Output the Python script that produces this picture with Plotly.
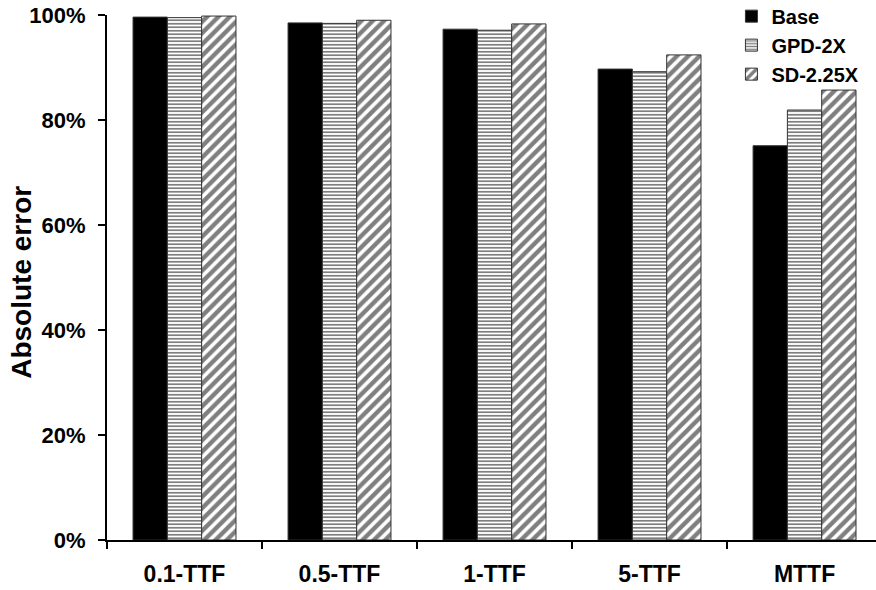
import plotly.graph_objects as go

categories = ["0.1-TTF", "0.5-TTF", "1-TTF", "5-TTF", "MTTF"]
base = [0.996, 0.985, 0.973, 0.897, 0.751]
gpd_2x = [0.995, 0.984, 0.971, 0.892, 0.819]
sd_225x = [0.998, 0.990, 0.983, 0.924, 0.857]
series_names = ["Base", "GPD-2X", "SD-2.25X"]
y_ticks = [0, 0.2, 0.4, 0.6, 0.8, 1.0]
y_tick_labels = ["0%", "20%", "40%", "60%", "80%", "100%"]
y_title = "Absolute error"

FONT = "Liberation Sans, Arial, sans-serif"

fig = go.Figure()
fig.add_trace(go.Bar(
    x=categories, y=base, name=series_names[0],
    marker=dict(color="black", line=dict(color="#333", width=1)),
))
fig.add_trace(go.Bar(
    x=categories, y=gpd_2x, name=series_names[1],
    marker=dict(color="white", line=dict(color="#333", width=1),
                pattern=dict(shape="-", fgcolor="black", bgcolor="white",
                             size=3.5, solidity=0.5)),
))
fig.add_trace(go.Bar(
    x=categories, y=sd_225x, name=series_names[2],
    marker=dict(color="white", line=dict(color="#333", width=1),
                pattern=dict(shape="/", fgcolor="black", bgcolor="white",
                             size=8, solidity=0.55)),
))

fig.add_annotation(
    text=y_title, xref="paper", yref="paper", x=-0.1105, y=0.49,
    xanchor="center", yanchor="middle", textangle=-90, showarrow=False,
    font=dict(family=FONT, size=28, color="black", weight="bold"),
)

fig.update_layout(
    width=876, height=590,
    margin=dict(l=107, r=0, t=15, b=50, autoexpand=False),
    plot_bgcolor="white", paper_bgcolor="white",
    barmode="group", bargap=0.336, bargroupgap=0,
    font=dict(family=FONT, size=20, color="black", weight="bold"),
    showlegend=True,
    legend=dict(x=0.812, y=1.035, xanchor="left", yanchor="top",
                bgcolor="rgba(0,0,0,0)", borderwidth=0,
                font=dict(family=FONT, size=20, color="black", weight="bold"),
                tracegroupgap=0),
    xaxis=dict(
        type="category", range=[-0.5, 4.461],
        showline=True, linecolor="black", linewidth=2,
        ticks="outside", tickson="boundaries", ticklen=7, tickwidth=2,
        tickcolor="black", showgrid=False, zeroline=False,
        tickfont=dict(family=FONT, size=23, color="black", weight="bold"),
        ticklabelstandoff=12,
    ),
    yaxis=dict(
        range=[0, 1], tickvals=y_ticks, ticktext=y_tick_labels,
        showline=True, linecolor="black", linewidth=2,
        ticks="outside", ticklen=7, tickwidth=2, tickcolor="black",
        showgrid=False, zeroline=False,
        tickfont=dict(family=FONT, size=22, color="black", weight="bold"),
        ticklabelstandoff=8,
    ),
)

fig.write_html("out.html")
